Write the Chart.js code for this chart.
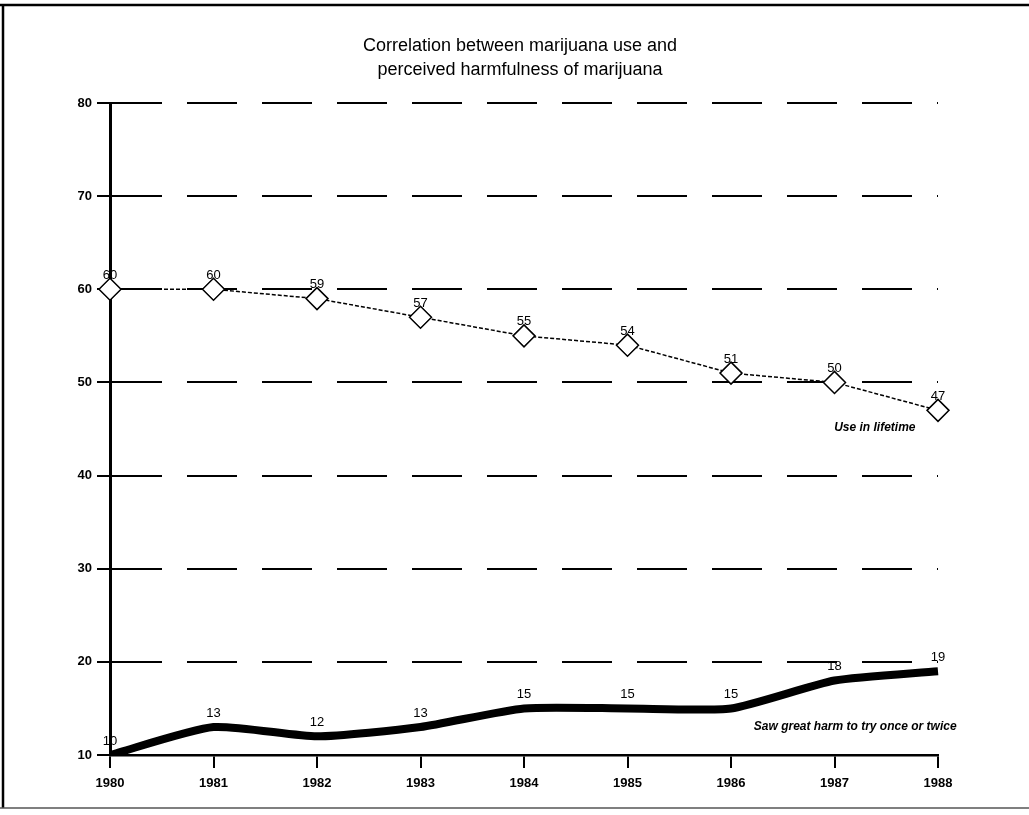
<!DOCTYPE html>
<html>
<head>
<meta charset="utf-8">
<script src="https://cdn.jsdelivr.net/npm/chart.js@4"></script>
<style>
  html, body { margin: 0; padding: 0; background: #fff; }
  #wrap { width: 1029px; height: 815px; }
</style>
</head>
<body>
<div id="wrap"><canvas id="canvas" width="1029" height="815"></canvas></div>
<script>
const years = ['1980', '1981', '1982', '1983', '1984', '1985', '1986', '1987', '1988'];
const useInLifetime = [60, 60, 59, 57, 55, 54, 51, 50, 47];
const sawGreatHarm = [10, 13, 12, 13, 15, 15, 15, 18, 19];
const titleLines = ['Correlation between marijuana use and', 'perceived harmfulness of marijuana'];
const seriesNotes = [
  { text: 'Use in lifetime', x: 7.39, y: 45.1 },
  { text: 'Saw great harm to try once or twice', x: 7.2, y: 13 }
];

const FONT = '"Liberation Sans", Arial, sans-serif';

// title, drawn centred a little right of the plot like the original page
const titleText = {
  id: 'titleText',
  afterDraw(chart) {
    const ctx = chart.ctx;
    ctx.save();
    ctx.fillStyle = '#000';
    ctx.font = '18px ' + FONT;
    ctx.textAlign = 'center';
    ctx.textBaseline = 'middle';
    titleLines.forEach((t, i) => ctx.fillText(t, 520, 46 + i * 24));
    ctx.restore();
  }
};

// values written above each point
const pointLabels = {
  id: 'pointLabels',
  afterDatasetsDraw(chart) {
    const ctx = chart.ctx;
    ctx.save();
    ctx.fillStyle = '#000';
    ctx.font = '13px ' + FONT;
    ctx.textAlign = 'center';
    ctx.textBaseline = 'middle';
    chart.data.datasets.forEach((ds, i) => {
      chart.getDatasetMeta(i).data.forEach((pt, j) => {
        ctx.fillText(String(ds.data[j]), pt.x, pt.y - 14);
      });
    });
    // series notes
    ctx.font = 'italic bold 12px ' + FONT;
    const xs = chart.scales.x, ys = chart.scales.y;
    seriesNotes.forEach(n => {
      ctx.fillText(n.text, xs.getPixelForValue(n.x), ys.getPixelForValue(n.y));
    });
    ctx.restore();
  }
};

// scanned page frame
const frame = {
  id: 'frame',
  afterDraw(chart) {
    const ctx = chart.ctx;
    ctx.save();
    ctx.strokeStyle = '#000';
    ctx.lineWidth = 2.5;
    ctx.beginPath();
    ctx.moveTo(0, 5); ctx.lineTo(1029, 5);
    ctx.moveTo(3, 5); ctx.lineTo(3, 808);
    ctx.stroke();
    ctx.strokeStyle = '#555';
    ctx.lineWidth = 1.5;
    ctx.beginPath();
    ctx.moveTo(0, 808); ctx.lineTo(1029, 808);
    ctx.stroke();
    ctx.restore();
  }
};

const bg = {
  id: 'bg',
  beforeDraw(chart) {
    const ctx = chart.ctx;
    ctx.save();
    ctx.fillStyle = '#fff';
    ctx.fillRect(0, 0, chart.width, chart.height);
    ctx.restore();
  }
};

new Chart(document.getElementById('canvas'), {
  type: 'line',
  data: {
    labels: years,
    datasets: [
      {
        label: 'Use in lifetime',
        data: useInLifetime,
        borderColor: '#000',
        borderWidth: 1.5,
        borderDash: [4, 2],
        pointStyle: 'rectRot',
        pointRadius: 11,
        pointBorderWidth: 1.5,
        pointBorderColor: '#000',
        pointBackgroundColor: '#fff',
        tension: 0
      },
      {
        label: 'Saw great harm to try once or twice',
        data: sawGreatHarm,
        borderColor: '#000',
        borderWidth: 8,
        pointRadius: 0,
        tension: 0.2
      }
    ]
  },
  options: {
    responsive: false,
    animation: false,
    layout: { padding: { left: 0, right: 91, top: 103, bottom: 0 } },
    plugins: {
      legend: { display: false },
      tooltip: { enabled: false },
      title: { display: false }
    },
    scales: {
      x: {
        offset: false,
        grid: {
          drawOnChartArea: false,
          drawTicks: true,
          tickLength: 13,
          color: '#000',
          lineWidth: 2
        },
        border: { display: true, color: '#000', width: 2.5 },
        ticks: {
          color: '#000',
          padding: 8,
          maxRotation: 0,
          font: { family: FONT, size: 13, weight: 'bold' }
        },
        afterFit(scale) { scale.height = 60; }
      },
      y: {
        min: 10,
        max: 80,
        grid: {
          color: ctx => ctx.tick && ctx.tick.value === 10 ? 'rgba(0,0,0,0)' : '#000',
          tickColor: '#000',
          lineWidth: 2,
          tickLength: 13,
          tickBorderDash: []
        },
        border: { display: true, color: '#000', width: 3, dash: [50, 25] },
        ticks: {
          stepSize: 10,
          color: '#000',
          padding: 5,
          font: { family: FONT, size: 13, weight: 'bold' }
        },
        afterFit(scale) { scale.width = 110; }
      }
    }
  },
  plugins: [bg, pointLabels, titleText, frame]
});
</script>
</body>
</html>
